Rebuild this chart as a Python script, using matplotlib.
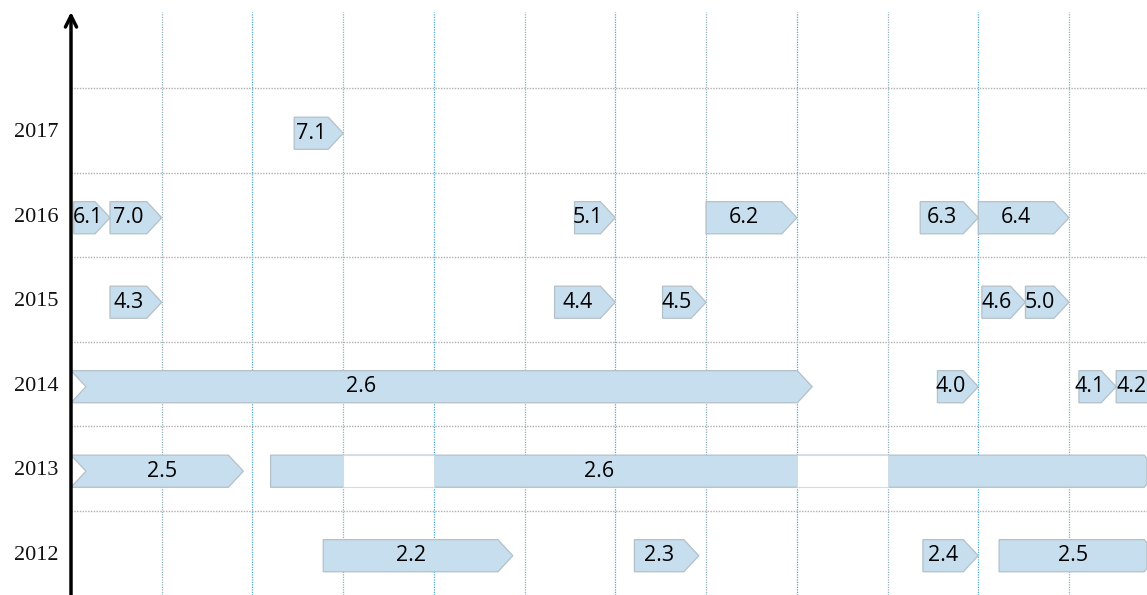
import matplotlib
matplotlib.use("Agg")
import matplotlib.pyplot as plt
from matplotlib.patches import Polygon, Rectangle

# rows (years) shown on the vertical axis
years = [2012, 2013, 2014, 2015, 2016, 2017]

# version blocks: row, start, end (tip), label
ver_labels = ['7.1',
              '6.1', '7.0', '5.1', '6.2', '6.3', '6.4',
              '4.3', '4.4', '4.5', '4.6', '5.0',
              '2.6', '4.0', '4.1', '4.2',
              '2.5', '2.6',
              '2.2', '2.3', '2.4', '2.5']
ver_rows = [2017,
            2016, 2016, 2016, 2016, 2016, 2016,
            2015, 2015, 2015, 2015, 2015,
            2014, 2014, 2014, 2014,
            2013, 2013,
            2012, 2012, 2012, 2012]
ver_start = [2.46,
             0.03, 0.43, 5.55, 7.0, 9.36, 10.0,
             0.43, 5.33, 6.52, 10.04, 10.52,
             0.0, 9.55, 11.11, 11.52,
             0.0, 2.2,
             2.78, 6.21, 9.39, 10.23]
ver_end = [3.0,
           0.43, 1.0, 6.0, 8.0, 10.0, 11.0,
           1.0, 6.0, 7.0, 10.52, 11.0,
           8.17, 10.0, 11.52, 12.1,
           1.9, 11.86,
           4.87, 6.92, 10.0, 11.86]
# a few labels are not centred in their block
label_x = {1: 0.19, 12: 3.2, 15: 11.69, 16: 1.0, 17: 5.82}

# white gaps inside the long 2013 bar
gap_row = 2013
gap_spans = [(3.0, 4.0), (8.0, 9.0)]

XMAX = 11.86
TIP = 0.165
HALF = 0.19
DY = -0.035
FILL = '#c6deed'
EDGE = '#b4c0c8'

fig = plt.figure(figsize=(11.47, 5.95), dpi=100)
ax = fig.add_axes([71 / 1147, 0, 1 - 71 / 1147, 583 / 595])
ax.set_xlim(0, XMAX)
ax.set_ylim(-0.5, 6.4)

# grid
for k in range(1, 12):
    col = '#4fa9cc' if k % 2 == 0 else '#8fb0bd'
    ax.axvline(k, color=col, lw=0.9, ls=(0, (1, 1)), zorder=0)
for k in range(len(years)):
    ax.axhline(k + 0.5, color='#b0b0b0', lw=1.0, ls=(0, (1, 1)), zorder=0)

for i, lab in enumerate(ver_labels):
    y = years.index(ver_rows[i]) + DY
    s, e = ver_start[i], ver_end[i]
    if e >= XMAX:
        pts = [(s, y - HALF), (e - 0.03, y - HALF), (e, y - HALF + 0.04),
               (e, y + HALF - 0.04), (e - 0.03, y + HALF), (s, y + HALF)]
        body_end = e
    else:
        pts = [(s, y - HALF), (e - TIP, y - HALF), (e, y),
               (e - TIP, y + HALF), (s, y + HALF)]
        body_end = e - TIP
    if s == 0:
        pts.append((TIP, y))
    ax.add_patch(Polygon(pts, closed=True, facecolor=FILL, edgecolor=EDGE,
                         lw=0.9, zorder=2))
    tx = label_x.get(i, (s + body_end) / 2)
    ax.text(tx, y, lab, ha='center', va='center', fontsize=15.5,
            family='Open Sans', color='black', zorder=4)

gy = years.index(gap_row) + DY
for a, b in gap_spans:
    ax.add_patch(Rectangle((a, gy - HALF), b - a, 2 * HALF, facecolor='white',
                           edgecolor='#d0dde6', lw=0.8, zorder=3))

# axis with arrow
ax.annotate('', xy=(0, 6.4), xytext=(0, -0.5),
            arrowprops=dict(arrowstyle='->', lw=2.5, color='black',
                            mutation_scale=20, shrinkA=0, shrinkB=0),
            annotation_clip=False, zorder=5)

for sp in ax.spines.values():
    sp.set_visible(False)
ax.set_xticks([])
ax.set_yticks(range(len(years)))
ax.set_yticklabels([str(y) for y in years], family='Liberation Serif',
                   fontsize=16, color='#111111')
ax.tick_params(axis='y', length=0, pad=9)

fig.savefig('out.png', dpi=100)
